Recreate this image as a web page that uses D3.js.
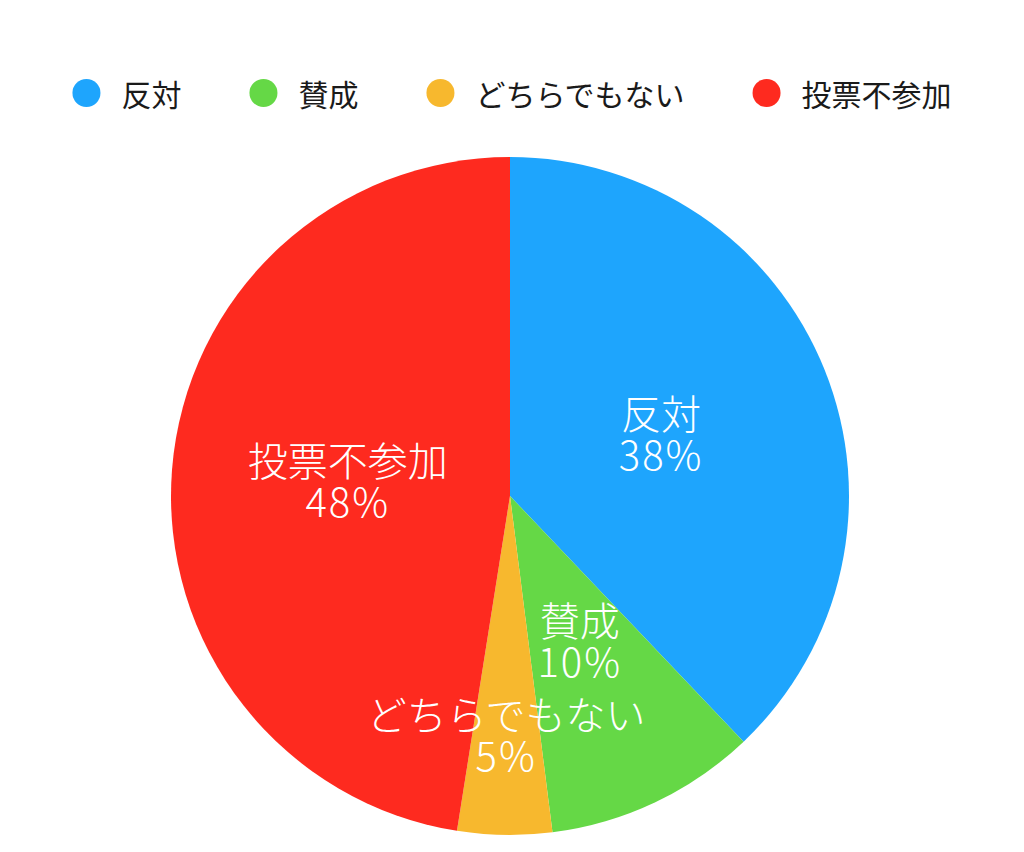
<!DOCTYPE html>
<html>
<head>
<meta charset="utf-8">
<script src="https://cdn.jsdelivr.net/npm/d3@7"></script>
<style>
  body { margin: 0; background: #fff; }
  svg { display: block; font-family: "Noto Sans CJK JP", sans-serif; }
</style>
</head>
<body>
<div id="chart"></div>
<script>
// データ
const categories = ['反対', '賛成', 'どちらでもない', '投票不参加'];
const values = [37.9, 10.1, 4.5, 47.5];
const colors = ['#1ea5fd', '#65d846', '#f7b82e', '#fe2a1f'];

const width = 1024;
const height = 852;
const cx = 510, cy = 496, radius = 339;

const svg = d3.select('#chart')
    .append('svg')
    .attr('width', width)
    .attr('height', height);

const data = categories.map((c, i) => ({ name: c, value: values[i], color: colors[i] }));

// 円グラフ
const pie = d3.pie().sort(null).value(d => d.value);
const arc = d3.arc().innerRadius(0).outerRadius(radius);
const arcs = pie(data);

const g = svg.append('g').attr('transform', `translate(${cx},${cy})`);

g.selectAll('path.slice')
    .data(arcs)
    .join('path')
    .attr('class', 'slice')
    .attr('d', arc)
    .attr('fill', d => d.data.color);

// ラベル（小さい扇形は外側寄り）
const labelArc = d => {
    const share = (d.endAngle - d.startAngle) / (2 * Math.PI);
    const r = share < 0.08 ? radius * 0.71 : radius * 0.48;
    return d3.arc().innerRadius(r).outerRadius(r).centroid(d);
};

const labels = g.selectAll('text.label')
    .data(arcs)
    .join('text')
    .attr('class', 'label')
    .attr('transform', d => `translate(${labelArc(d)})`)
    .attr('text-anchor', 'middle')
    .attr('fill', '#fff')
    .attr('font-size', 40)
    .attr('font-weight', 300);

labels.append('tspan')
    .attr('x', 0)
    .attr('y', -7)
    .text(d => d.data.name);
labels.append('tspan')
    .attr('x', 0)
    .attr('dy', 41)
    .attr('letter-spacing', 2)
    .text(d => Math.round(d.data.value) + '%');

// 凡例
const legend = svg.append('g').attr('class', 'legend');
const items = legend.selectAll('g.item')
    .data(data)
    .join('g')
    .attr('class', 'item');
items.append('circle')
    .attr('r', 14)
    .attr('cx', 14)
    .attr('cy', 0)
    .attr('fill', d => d.color);
items.append('text')
    .attr('x', 49)
    .attr('dominant-baseline', 'central')
    .attr('font-size', 30)
    .attr('fill', '#1a1a1a')
    .text(d => d.name);

let offset = 0;
const widths = [];
items.each(function() {
    widths.push(this.querySelector('text').getComputedTextLength() + 49);
});
const gap = 68;
const total = d3.sum(widths) + gap * (widths.length - 1);
let x0 = (width - total) / 2;
items.attr('transform', (d, i) => {
    const x = x0 + offset;
    offset += widths[i] + gap;
    return `translate(${x},93)`;
});
</script>
</body>
</html>
